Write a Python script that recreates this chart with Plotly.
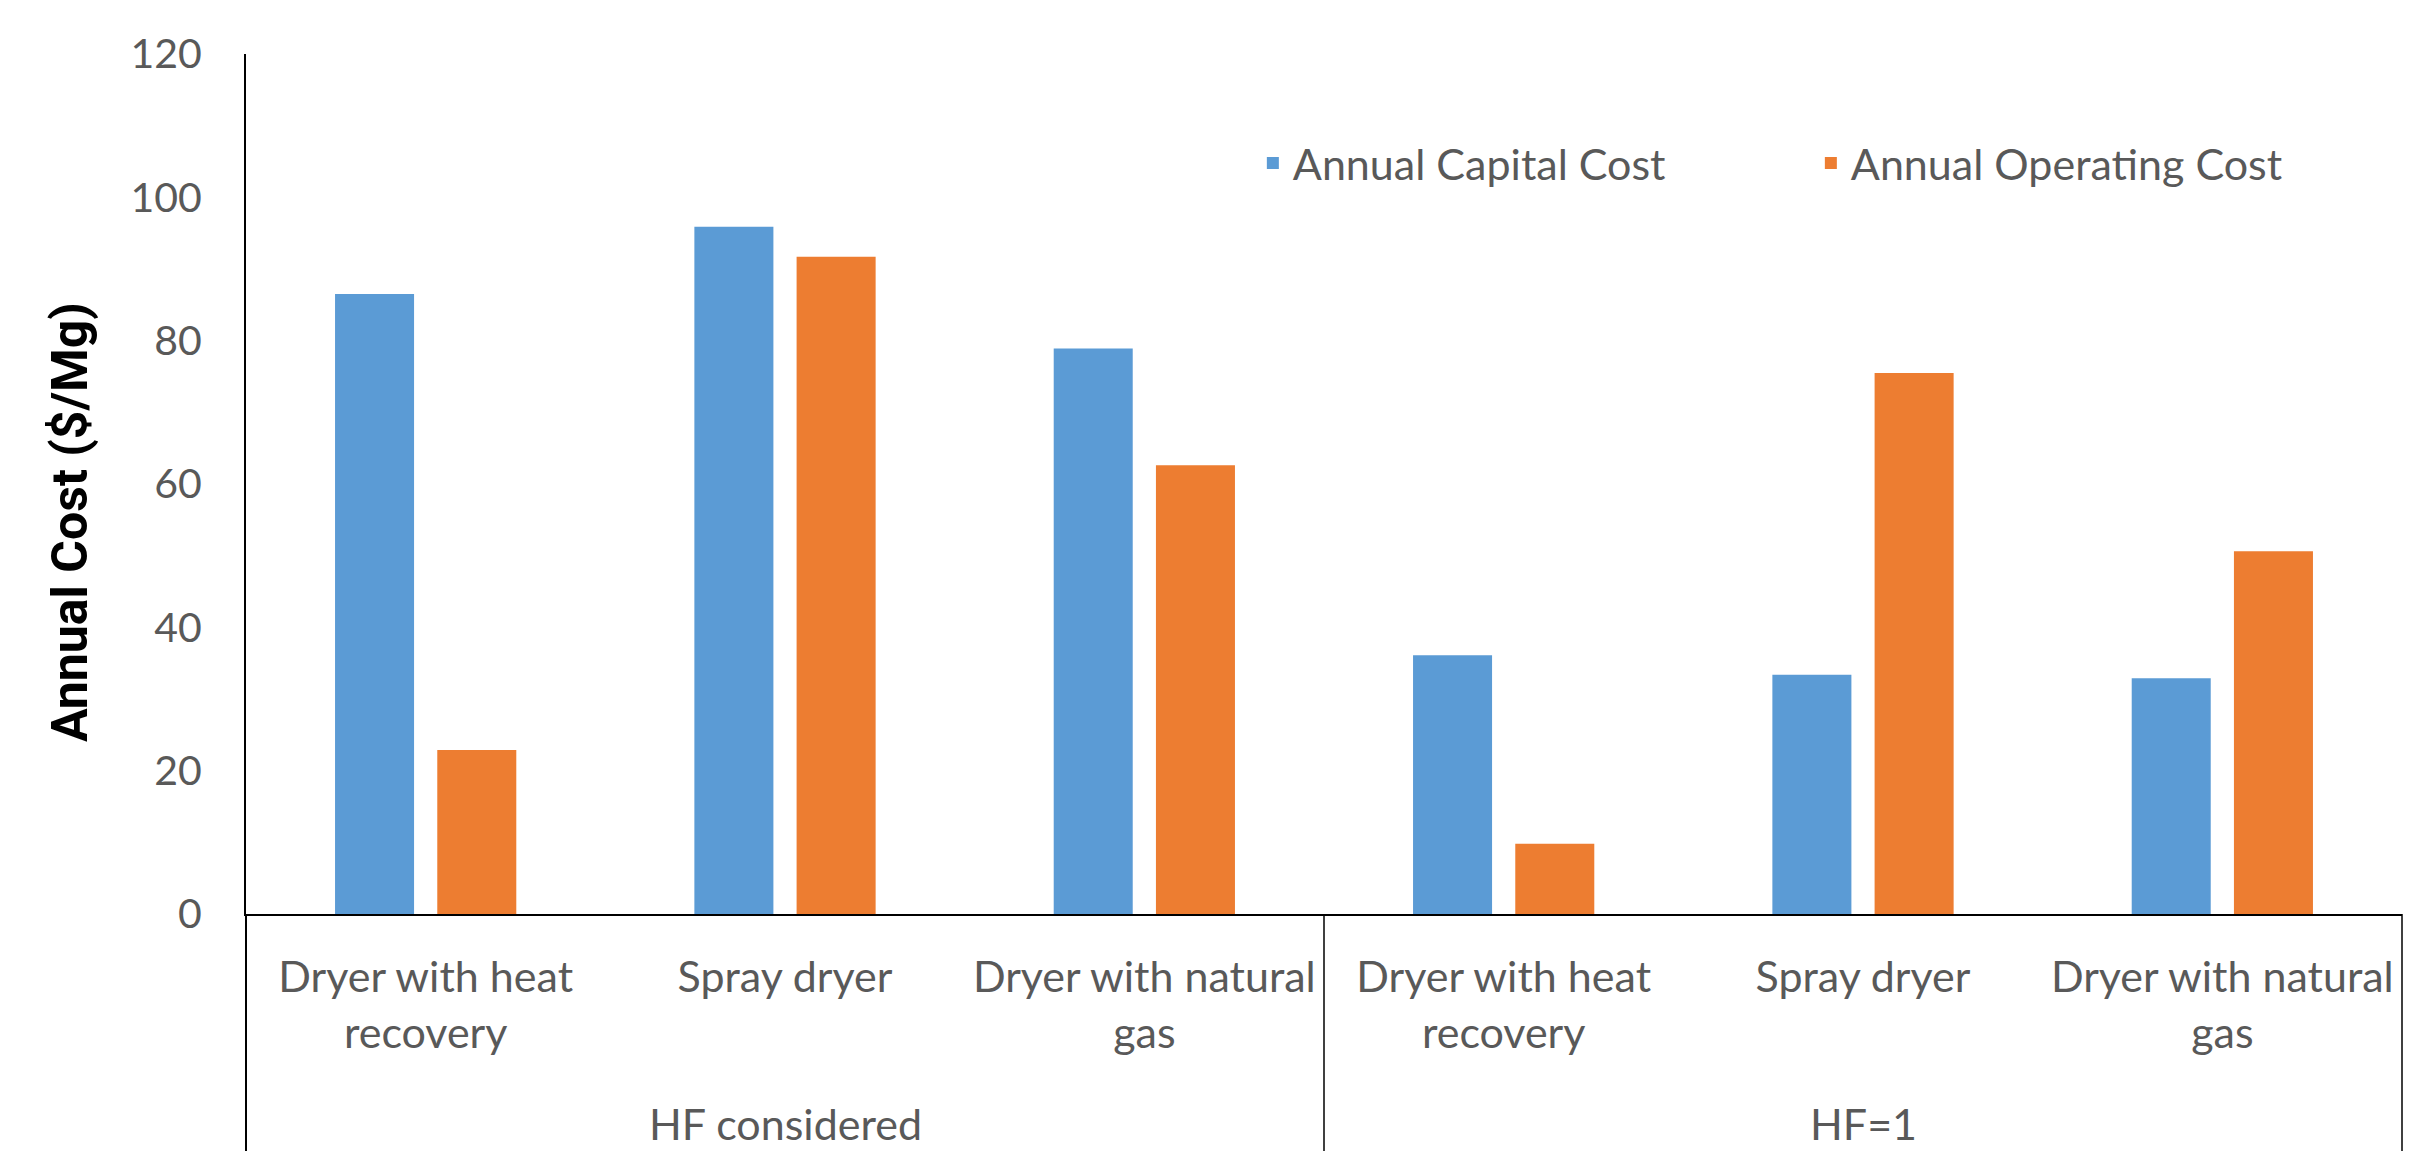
import plotly.graph_objects as go

categories = ["Dryer with heat<br>recovery", "Spray dryer", "Dryer with natural<br>gas",
              "Dryer with heat<br>recovery", "Spray dryer", "Dryer with natural<br>gas"]
groups = ["HF considered", "HF=1"]
group_centers = [1, 4]
capital_cost = [86.5, 95.9, 78.9, 36.1, 33.4, 32.9]
operating_cost = [22.9, 91.7, 62.6, 9.8, 75.5, 50.6]
y_ticks = [0, 20, 40, 60, 80, 100, 120]

W, H = 2428, 1151
L, R, T, B = 246, 26, 54, 237
plot_h = H - T - B

TXT = "Lato, Open Sans, sans-serif"
GRAY = "#595959"
xs = list(range(len(categories)))

fig = go.Figure()
fig.add_trace(go.Bar(x=xs, y=capital_cost, name="Annual Capital Cost",
                     marker=dict(color="#5B9BD5", line=dict(width=0))))
fig.add_trace(go.Bar(x=xs, y=operating_cost, name="Annual Operating Cost",
                     marker=dict(color="#ED7D31", line=dict(width=0))))

bottom = -B / plot_h
shapes = [
    dict(type="line", xref="paper", yref="paper", x0=0, x1=0, y0=0, y1=bottom,
         line=dict(color="black", width=2)),
    dict(type="line", xref="paper", yref="paper", x0=0.5, x1=0.5, y0=0, y1=bottom,
         line=dict(color="black", width=1.5)),
    dict(type="line", xref="paper", yref="paper", x0=1, x1=1, y0=0, y1=bottom,
         line=dict(color="black", width=1.5)),
]

annotations = [
    dict(text=g, x=c, xref="x", y=(914 - 1123) / plot_h, yref="paper",
         showarrow=False, font=dict(family=TXT, size=43, color=GRAY),
         xanchor="center", yanchor="middle")
    for g, c in zip(groups, group_centers)
]
annotations.append(dict(text="<b>Annual Cost ($/Mg)</b>", textangle=-90,
                        x=(70 - L) / (W - L - R), xref="paper",
                        y=(914 - 522) / plot_h, yref="paper", showarrow=False,
                        xanchor="center", yanchor="middle",
                        font=dict(family="Liberation Sans Narrow, Roboto, sans-serif",
                                  size=50, color="black")))

fig.update_layout(
    width=W, height=H,
    margin=dict(l=L, r=R, t=T, b=B),
    paper_bgcolor="white", plot_bgcolor="white",
    barmode="group", bargap=0.431, bargroupgap=0.227,
    showlegend=True,
    legend=dict(orientation="h", x=0.467, y=(914 - 163) / plot_h,
                xanchor="left", yanchor="middle",
                font=dict(family=TXT, size=43, color=GRAY),
                entrywidth=513, entrywidthmode="pixels",
                itemsizing="constant", bgcolor="rgba(0,0,0,0)"),
    xaxis=dict(range=[-0.5, 5.5], tickvals=xs, ticktext=categories,
               showline=True, linecolor="black", linewidth=2,
               showgrid=False, zeroline=False, ticks="",
               tickfont=dict(family=TXT, size=43, color=GRAY),
               ticklabelstandoff=24),
    yaxis=dict(range=[0, 120], tickvals=y_ticks,
               showline=True, linecolor="black", linewidth=2,
               showgrid=False, zeroline=False, ticks="",
               tickfont=dict(family=TXT, size=41, color=GRAY),
               ticklabelstandoff=34),
    shapes=shapes, annotations=annotations,
)

fig.write_html("out.html")
